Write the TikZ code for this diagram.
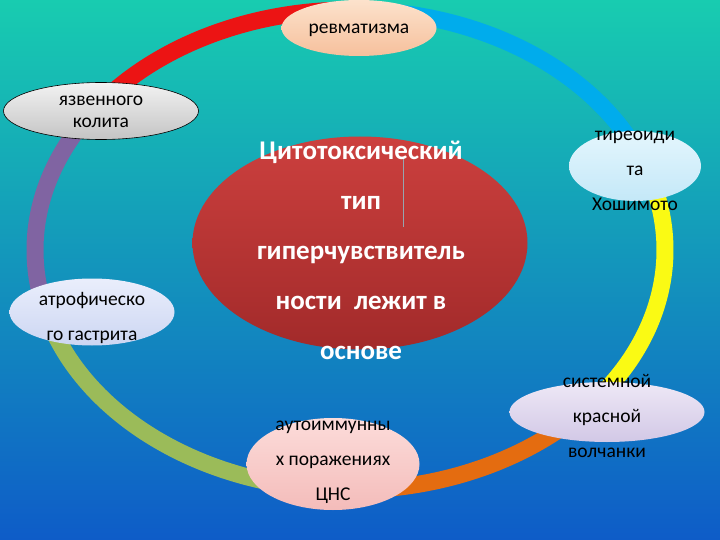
\documentclass[tikz,border=0pt]{standalone}
\usepackage{fontspec}
\setmainfont{Carlito}
\usetikzlibrary{positioning}
\usetikzlibrary{shapes.geometric}

\definecolor{bgtop}{RGB}{24,204,176}
\definecolor{bgmid}{RGB}{28,176,226}
\definecolor{bgbot}{RGB}{14,92,200}
\definecolor{ringred}{RGB}{236,20,20}
\definecolor{ringblue}{RGB}{0,172,236}
\definecolor{ringyellow}{RGB}{250,250,20}
\definecolor{ringorange}{RGB}{228,108,16}
\definecolor{ringgreen}{RGB}{155,187,89}
\definecolor{ringpurple}{RGB}{128,100,162}
\definecolor{coretop}{RGB}{204,64,62}
\definecolor{corebot}{RGB}{162,42,42}

\begin{document}
\begin{tikzpicture}[x=1pt,y=-1pt,font=\fontsize{19.5}{35}\selectfont]
	\tikzstyle{bubble}=[ellipse,inner sep=0pt]
	\tikzstyle{ring}=[line width=17pt]
	\tikzstyle{label text}=[align=center,text=black]
	\tikzstyle{core text}=[align=center,text=white,font=\fontsize{27}{50}\selectfont\bfseries]
	
	\useasboundingbox (0,0) rectangle (720,540);
	\shade[top color=bgtop,middle color=bgmid,bottom color=bgbot] (0,0) rectangle (720,540);
	
	\coordinate (hub) at (350,250);
	\foreach \from/\to/\col in {160/212/ringpurple,210/272/ringred,270/337/ringblue,
		335/400/ringyellow,38/92/ringorange,90/162/ringgreen}
		\draw[ring,draw=\col] ([shift={(\from:315 and 240)}]hub)
			arc[start angle=\from,end angle=\to,x radius=315,y radius=240];
	
	\node[bubble,minimum width=335pt,minimum height=213pt,top color=coretop,bottom color=corebot] (core) at (360,243) {};
	\draw[draw={rgb,255:red,150;green,165;blue,175},line width=0.8pt] (403,158) -- (403,227);
	
	\node[bubble,minimum width=155pt,minimum height=56pt,top color={rgb,255:red,252;green,226;blue,204},bottom color={rgb,255:red,246;green,192;blue,156}] (rheum) at (359,28) {};
	\node[bubble,draw=black,line width=0.6pt,minimum width=195pt,minimum height=57pt,top color={rgb,255:red,242;green,242;blue,242},bottom color={rgb,255:red,196;green,196;blue,196}] (colitis) at (101,111) {};
	\node[bubble,minimum width=165pt,minimum height=67pt,top color={rgb,255:red,234;green,238;blue,252},bottom color={rgb,255:red,204;green,214;blue,242}] (gastr) at (92,312) {};
	\node[bubble,minimum width=132pt,minimum height=70pt,top color={rgb,255:red,228;green,246;blue,253},bottom color={rgb,255:red,196;green,232;blue,248}] (thyro) at (635,166) {};
	\node[bubble,minimum width=195pt,minimum height=60pt,top color={rgb,255:red,238;green,232;blue,246},bottom color={rgb,255:red,210;green,200;blue,230}] (lupus) at (607,412) {};
	\node[bubble,minimum width=173pt,minimum height=92pt,top color={rgb,255:red,252;green,220;blue,218},bottom color={rgb,255:red,244;green,188;blue,186}] (cns) at (333,464) {};
	
	\node[core text] (core-t) at (361,250) {Цитотоксический\\тип\\гиперчувствитель\\ности~~лежит в\\основе};
	\node[label text] (rheum-t) at (359,30) {ревматизма};
	\node[label text,font=\fontsize{19.5}{22}\selectfont] (colitis-t) at (101,112) {язвенного\\колита};
	\node[label text] (gastr-t) at (92,318) {атрофическо\\го гастрита};
	\node[label text] (thyro-t) at (635,171) {тиреоиди\\та\\Хошимото};
	\node[label text] (lupus-t) at (607,416) {системной\\красной\\волчанки};
	\node[label text] (cns-t) at (333,462) {аутоиммунны\\х поражениях\\ЦНС};
\end{tikzpicture}
\end{document}
